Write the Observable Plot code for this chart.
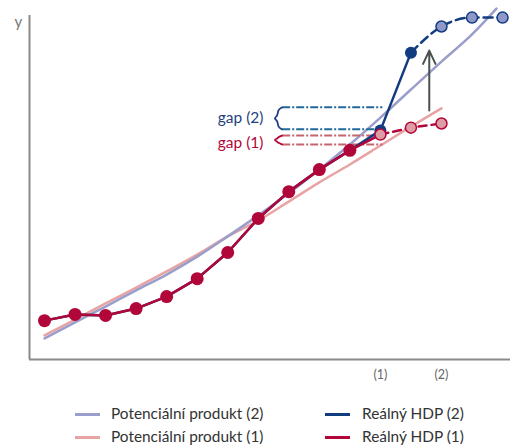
<!DOCTYPE html>
<html>
<head>
<meta charset="utf-8">
<script src="https://cdn.jsdelivr.net/npm/d3@7"></script>
<script src="https://cdn.jsdelivr.net/npm/@observablehq/plot@0.6"></script>
<style>
  html, body { margin: 0; padding: 0; background: #fff; }
  #chart { width: 510px; }
  #legend { position: relative; width: 510px; height: 54px; font-family: Lato, "Open Sans", sans-serif; font-size: 15.4px; color: #333; }
  .sw { position: absolute; width: 25px; height: 3px; }
  .lt { position: absolute; line-height: 18px; white-space: nowrap; }
</style>
</head>
<body>
<div id="chart"></div>
<div id="legend"></div>
<script>
// ---- data ----
const index = d3.range(16);
const real1 = [11.3, 13.1, 12.8, 14.8, 18.3, 23.5, 31.1, 41.0, 48.8, 55.2, 60.8, 65.4, 67.4, 68.6];
const real2 = [11.3, 13.1, 12.8, 14.8, 18.3, 23.5, 31.1, 41.0, 48.8, 55.2, 60.8, 66.6, 89.2, 96.8, 99.4, 99.4];
const pot2Index = [0, 1, 2, 3, 4, 5, 6, 7, 8, 9, 10, 11, 12, 13, 14, 14.8];
const pot2 = [6.1, 10.8, 15.4, 20.1, 24.7, 29.9, 35.8, 41.9, 48.3, 55.2, 62.5, 70.3, 78.5, 86.6, 94.5, 102.0];
const pot1Index = [0, 1, 2, 3, 4, 5, 6, 7, 8, 9, 10, 11, 12, 13];
const pot1 = [7.0, 11.6, 16.3, 20.9, 25.6, 30.5, 35.8, 40.4, 45.9, 51.5, 56.7, 62.2, 67.7, 73.0];
const tickPositions = [11, 13];
const tickLabels = ["(1)", "(2)"];
const gapLabels = ["gap (2)", "gap (1)"];
const gapTop = [73.3, 65.1];
const gapBottom = [66.9, 62.5];
const gapLabelY = [70.1, 62.8];
const gapFrom = 7.80, gapTo = 11.08, braceX = 7.64, labelX = 7.17;
const arrowX = 12.6, arrowFrom = 72.4, arrowTo = 89.8;
const legendLabels = ["Potenciální produkt (2)", "Reálný HDP (2)", "Potenciální produkt (1)", "Reálný HDP (1)"];

// ---- colours ----
const cRed = "#b1063a", cRedLight = "#de9ca5";
const cBlue = "#123c80", cBlueLight = "#8f98c9";
const cPot2 = "#9a9ecb", cPot1 = "#e8a3a3";
const cGap2 = "#22699b", cGap1 = "#c4646e";

const rows = (xs, ys) => xs.map((x, i) => ({x, y: ys[i]}));
const r1 = rows(index.slice(0, real1.length), real1);
const r2 = rows(index, real2);
const p2 = rows(pot2Index, pot2);
const p1 = rows(pot1Index, pot1);

function brace(top, bottom, x) {
  const mid = (top + bottom) / 2, w = 0.14, e = Math.min(0.7, (top - bottom) / 5);
  return [
    {x: x + w, y: top}, {x: x, y: top - e}, {x: x, y: mid + e}, {x: x - w, y: mid},
    {x: x, y: mid - e}, {x: x, y: bottom + e}, {x: x + w, y: bottom}
  ];
}

const chart = Plot.plot({
  width: 510,
  height: 392,
  marginLeft: 29,
  marginRight: 0,
  marginTop: 15,
  marginBottom: 33,
  style: {fontFamily: "Lato, 'Open Sans', sans-serif", background: "#fff"},
  x: {domain: [-0.491, 15.26], axis: null},
  y: {domain: [0, 100], axis: null},
  marks: [
    Plot.axisX(tickPositions, {tickSize: 0, tickPadding: 11, tickFormat: (d) => tickLabels[tickPositions.indexOf(d)], fill: "#666", fontSize: 12.5, anchor: "bottom", label: null}),
    Plot.ruleY([0], {stroke: "#8a8a8a", strokeWidth: 2}),
    Plot.ruleX([-0.491], {y1: 0, y2: 100, stroke: "#8a8a8a", strokeWidth: 2}),
    Plot.text(["y"], {frameAnchor: "top-left", dx: -15, dy: 1, fill: "#777", fontSize: 15}),
    // potential output lines
    Plot.line(p1, {x: "x", y: "y", stroke: cPot1, strokeWidth: 2.5, curve: "monotone-x"}),
    Plot.line(p2, {x: "x", y: "y", stroke: cPot2, strokeWidth: 2.5, curve: "monotone-x"}),
    // gap annotations
    Plot.ruleY([gapTop[0], gapBottom[0]], {x1: gapFrom, x2: gapTo, stroke: cGap2, strokeWidth: 2, strokeDasharray: "8,2,2,2"}),
    Plot.ruleY([gapTop[1], gapBottom[1]], {x1: gapFrom, x2: gapTo, stroke: cGap1, strokeWidth: 2, strokeDasharray: "8,2,2,2"}),
    Plot.line(brace(gapTop[0], gapBottom[0], braceX), {x: "x", y: "y", stroke: "#1f3f7f", strokeWidth: 1.8, curve: "basis"}),
    Plot.line(brace(gapTop[1], gapBottom[1], braceX), {x: "x", y: "y", stroke: cRed, strokeWidth: 1.8, curve: "basis"}),
    Plot.text([0, 1], {x: labelX, y: (i) => gapLabelY[i], text: (i) => gapLabels[i], fill: (i) => i === 0 ? "#1f3f7f" : cRed, textAnchor: "end", fontSize: 15.5}),
    // arrow
    Plot.arrow([0], {x1: arrowX, x2: arrowX, y1: arrowFrom, y2: arrowTo, stroke: "#4b5050", strokeWidth: 2, headLength: 11, headAngle: 50}),
    // real GDP (2)
    Plot.line(r2.slice(0, 13), {x: "x", y: "y", stroke: cBlue, strokeWidth: 2.5}),
    Plot.line(r2.slice(12), {x: "x", y: "y", stroke: cBlue, strokeWidth: 2.5, strokeDasharray: "9,5", curve: "monotone-x"}),
    Plot.dot(r2.slice(11, 13), {x: "x", y: "y", r: 6, fill: cBlue}),
    Plot.dot(r2.slice(13), {x: "x", y: "y", r: 5.5, fill: cBlueLight, stroke: cBlue, strokeWidth: 1.5}),
    // real GDP (1)
    Plot.line(r1.slice(0, 12), {x: "x", y: "y", stroke: cRed, strokeWidth: 2.5}),
    Plot.line(r1.slice(11), {x: "x", y: "y", stroke: cRed, strokeWidth: 2.5, strokeDasharray: "8,5"}),
    Plot.dot(r1.slice(0, 11), {x: "x", y: "y", r: 6.5, fill: cRed}),
    Plot.dot(r1.slice(11), {x: "x", y: "y", r: 5.5, fill: cRedLight, stroke: cRed, strokeWidth: 1.5})
  ]
});
document.getElementById("chart").append(chart);

// ---- legend ----
const legend = document.getElementById("legend");
const legendColors = [cPot2, cBlue, cPot1, cRed];
legendLabels.forEach((label, i) => {
  const col = i % 2, row = Math.floor(i / 2);
  const cy = 22 + row * 23;
  const sw = document.createElement("div");
  sw.className = "sw";
  sw.style.left = (col ? 325 : 75) + "px";
  sw.style.top = (cy - 1.5) + "px";
  sw.style.background = legendColors[i];
  legend.append(sw);
  const t = document.createElement("div");
  t.className = "lt";
  t.style.left = (col ? 362 : 111) + "px";
  t.style.top = (cy - 10) + "px";
  t.textContent = label;
  legend.append(t);
});
</script>
</body>
</html>
